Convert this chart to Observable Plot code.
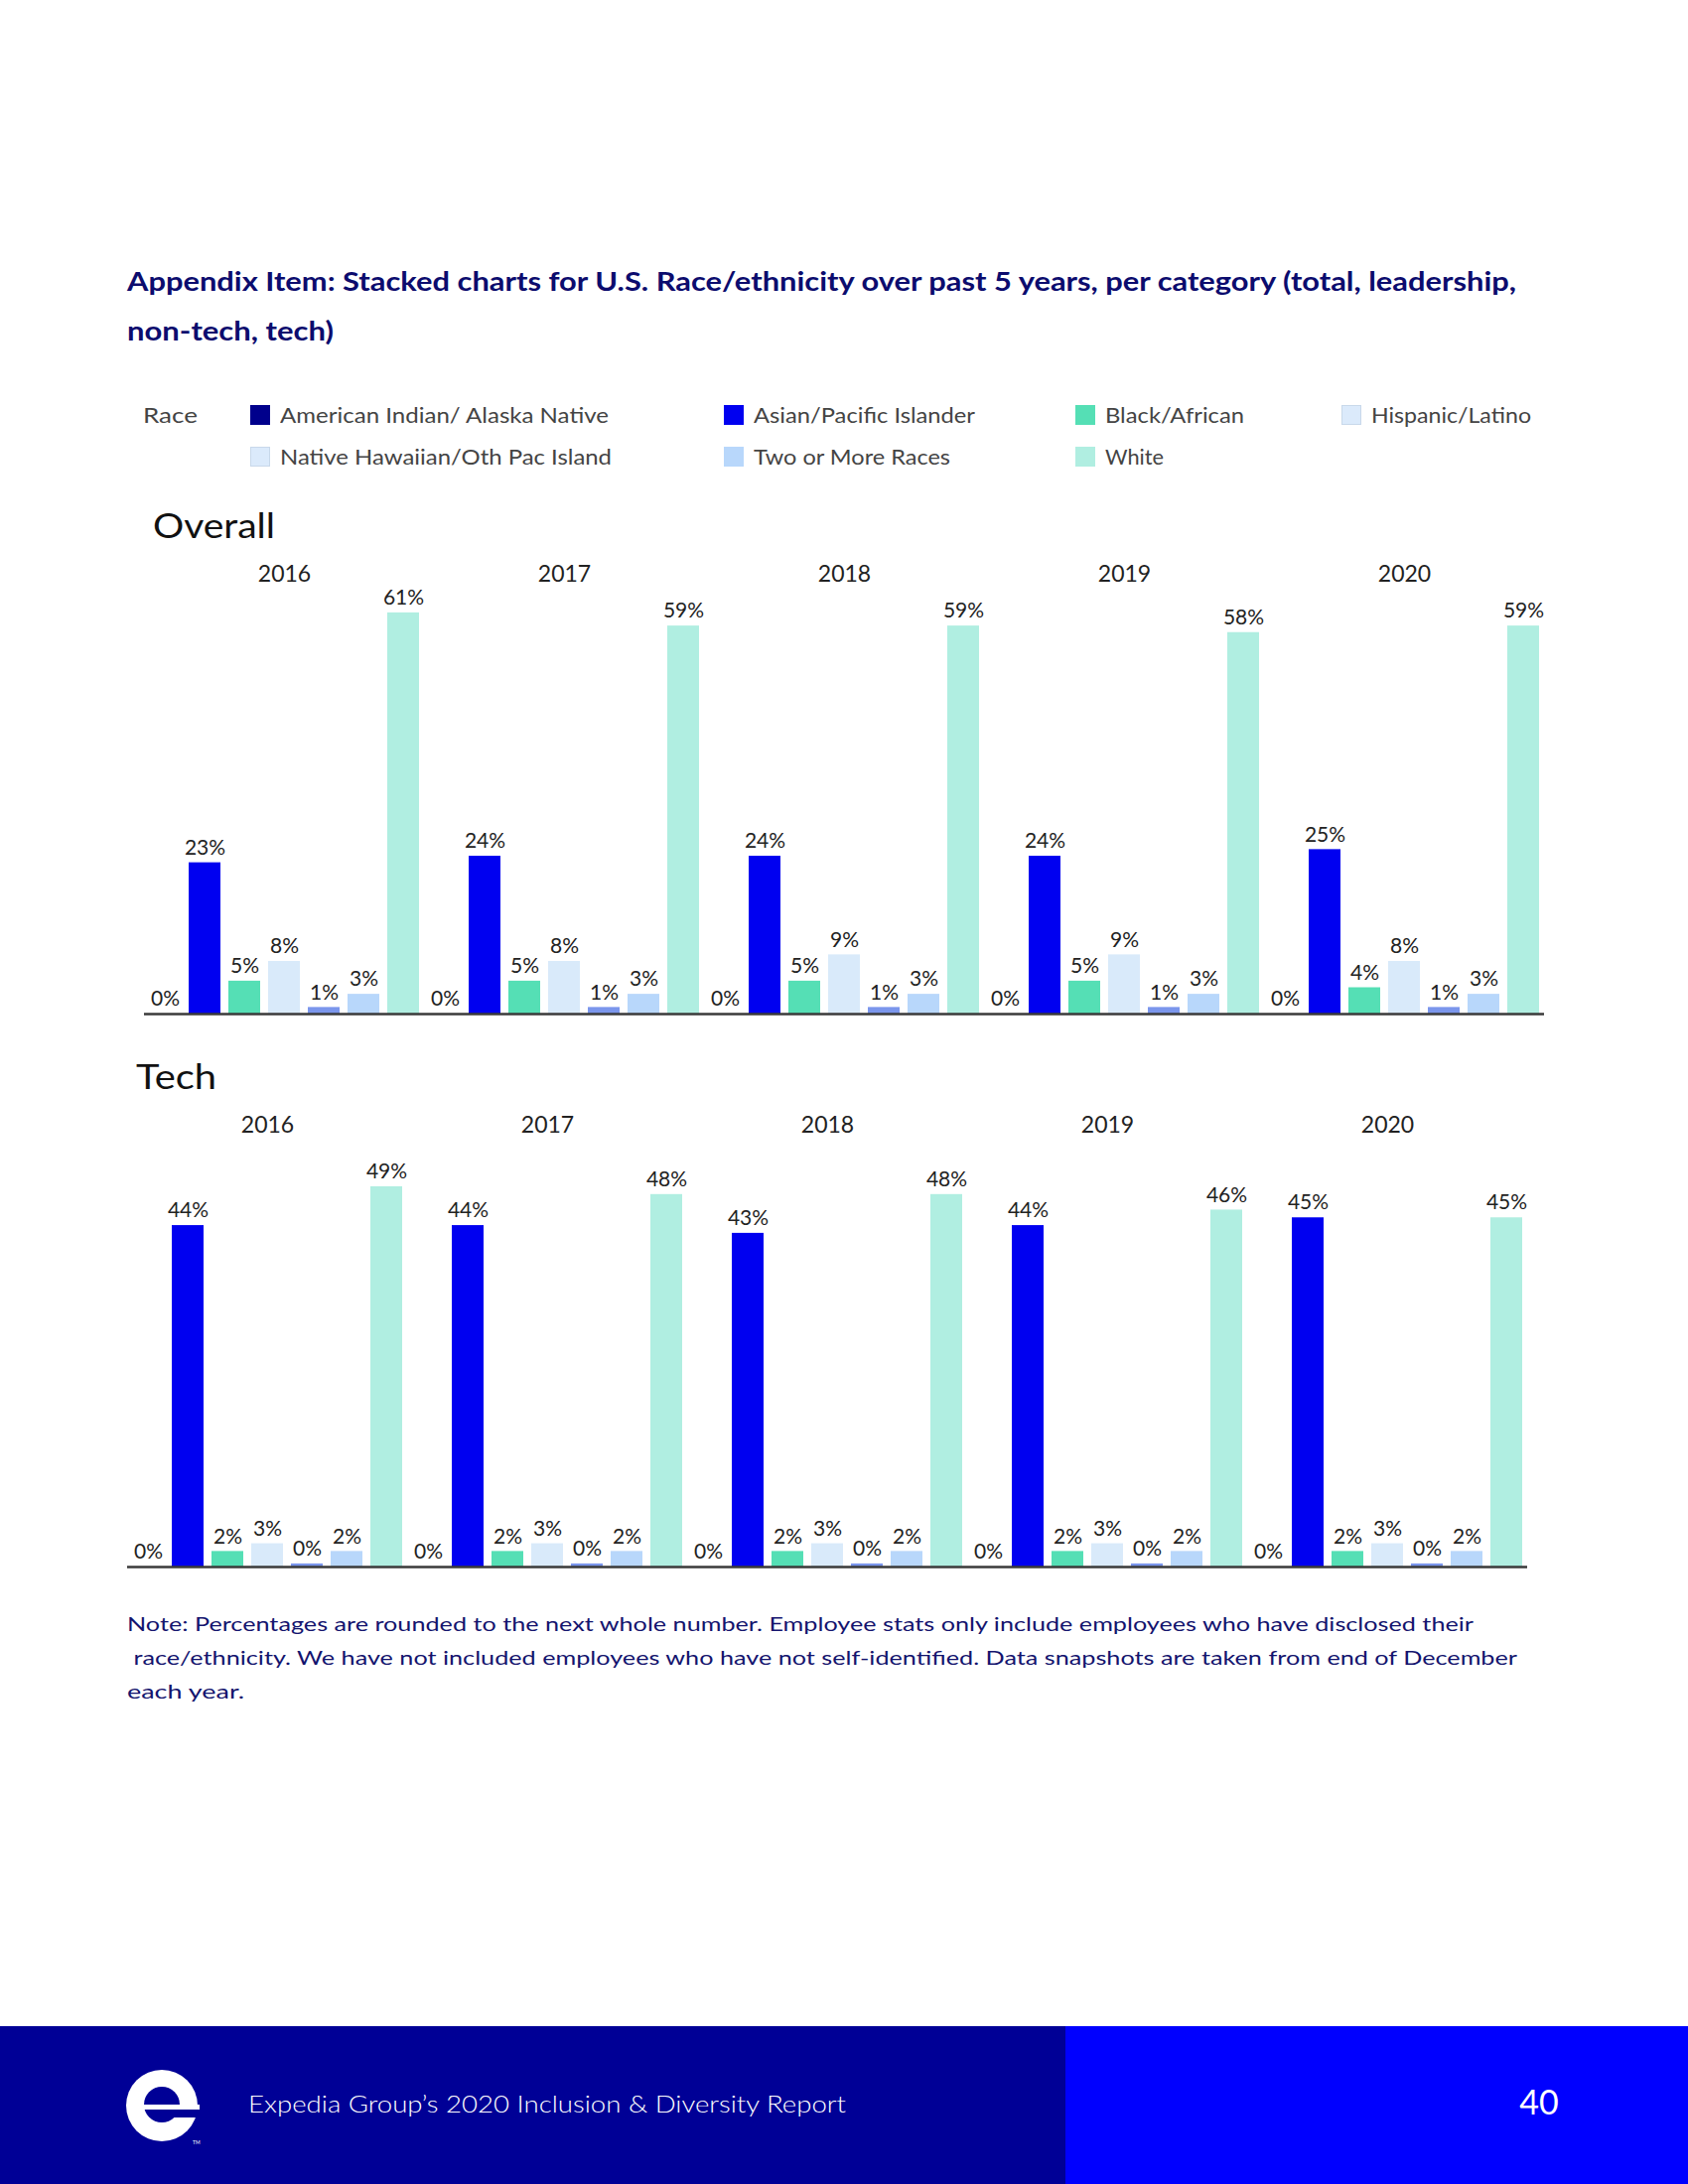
<!DOCTYPE html>
<html><head><meta charset="utf-8">
<script src="https://cdn.jsdelivr.net/npm/d3@7"></script>
<script src="https://cdn.jsdelivr.net/npm/@observablehq/plot@0.6"></script>
<style>
body{margin:0;background:#fff;}
#page{position:relative;width:1700px;height:2200px;overflow:hidden;font-family:Lato,"Open Sans",sans-serif;background:#fff;}
.abs{position:absolute;white-space:pre;}
.fit{display:inline-block;transform-origin:0 50%;}
.title{font-size:27px;font-weight:700;color:#0c0c6e;line-height:50px;}
.leg{font-size:21px;color:#444;line-height:30px;height:30px;}
.sw{position:absolute;width:20px;height:20px;box-sizing:border-box;}
.sec{font-size:34px;color:#111;line-height:40px;}
.note{line-height:34px;font-size:20px;color:#14146e;}
#footL{left:0;top:2041px;width:1073px;height:159px;background:#000096;}
#footR{left:1073px;top:2041px;width:627px;height:159px;background:#0000ff;}
#footText{left:250px;top:2104px;line-height:30px;font-size:24px;color:#fff;font-weight:300;}
#pageNum{left:1520px;top:2097px;line-height:40px;font-size:34px;color:#fff;width:60px;text-align:center;}
</style></head><body><div id="page">
<div class="abs title fit" style="left:128px;top:258px;" data-w="1399">Appendix Item: Stacked charts for U.S. Race/ethnicity over past 5 years, per category (total, leadership,</div>
<div class="abs title fit" style="left:128px;top:308px;" data-w="208">non-tech, tech)</div>
<div id="legend"></div>
<div class="abs sec fit" style="left:154px;top:509px;" data-w="123">Overall</div>
<div class="abs sec fit" style="left:137px;top:1064px;" data-w="81">Tech</div>
<div id="overall" class="abs" style="left:145px;top:537px;"></div>
<div id="tech" class="abs" style="left:128px;top:1092px;"></div>
<div class="abs note fit" style="left:128px;top:1618px;" data-w="1356">Note: Percentages are rounded to the next whole number. Employee stats only include employees who have disclosed their</div>
<div class="abs note fit" style="left:128px;top:1652px;" data-w="1400"> race/ethnicity. We have not included employees who have not self-identified. Data snapshots are taken from end of December</div>
<div class="abs note fit" style="left:128px;top:1686px;" data-w="118">each year.</div>
<div id="footL" class="abs"></div>
<div id="footR" class="abs"></div>
<svg class="abs" style="left:120px;top:2078px;" width="90" height="90" viewBox="0 0 90 90">
  <circle cx="43" cy="43" r="36" fill="#fff"/>
  <circle cx="43" cy="42" r="18" fill="#000096"/>
  <rect x="43" y="46" width="40" height="9" fill="#000096"/>
  <rect x="25" y="42" width="56" height="5" fill="#fff"/>
  <text x="74" y="82" font-size="5" fill="#fff">TM</text>
</svg>
<div id="footText" class="abs fit" data-w="602">Expedia Group’s 2020 Inclusion &amp; Diversity Report</div>
<div id="pageNum" class="abs">40</div>
</div>
<script>
const years = ["2016", "2017", "2018", "2019", "2020"];
const races = ["American Indian/ Alaska Native", "Asian/Pacific Islander", "Black/African", "Hispanic/Latino", "Native Hawaiian/Oth Pac Island", "Two or More Races", "White"];
const barColors = ["#00008c", "#0000f0", "#55dfb5", "#d9eafa", "#7b96ec", "#b8d7fb", "#b0eee1"];
const legendColors = ["#00008c", "#0000f0", "#55dfb5", "#dbeafb", "#dbeafb", "#b8d7fb", "#b0eee1"];

// values per year, in the order of races
const overall2016 = [0, 23, 5, 8, 1, 3, 61];
const overall2017 = [0, 24, 5, 8, 1, 3, 59];
const overall2018 = [0, 24, 5, 9, 1, 3, 59];
const overall2019 = [0, 24, 5, 9, 1, 3, 58];
const overall2020 = [0, 25, 4, 8, 1, 3, 59];

const tech2016 = [0, 44, 2, 3, 0.4, 2, 49];
const tech2017 = [0, 44, 2, 3, 0.4, 2, 48];
const tech2018 = [0, 43, 2, 3, 0.4, 2, 48];
const tech2019 = [0, 44, 2, 3, 0.4, 2, 46];
const tech2020 = [0, 45, 2, 3, 0.4, 2, 45];

const overallValues = [overall2016, overall2017, overall2018, overall2019, overall2020];
const techValues = [tech2016, tech2017, tech2018, tech2019, tech2020];

// legend
const legendPos = [[252, 418], [729, 418], [1083, 418], [1351, 418], [252, 460], [729, 460], [1083, 460]];
const legendWidths = [331, 223, 140, 161, 334, 198, 59];
const legend = document.getElementById("legend");
const raceLab = document.createElement("div");
raceLab.className = "abs leg fit"; raceLab.style.left = "144px"; raceLab.style.top = (418 - 15) + "px";
raceLab.dataset.w = 55;
raceLab.textContent = "Race"; legend.appendChild(raceLab);
races.forEach((r, i) => {
  const s = document.createElement("div");
  s.className = "sw";
  s.style.left = legendPos[i][0] + "px";
  s.style.top = (legendPos[i][1] - 10) + "px";
  s.style.background = legendColors[i];
  if (i === 3 || i === 4) s.style.border = "1px solid #c8d8ea";
  legend.appendChild(s);
  const d = document.createElement("div");
  d.className = "abs leg fit";
  d.style.left = (legendPos[i][0] + 30) + "px";
  d.style.top = (legendPos[i][1] - 15) + "px";
  d.dataset.w = legendWidths[i];
  d.textContent = r;
  legend.appendChild(d);
});

function fitAll() {
  document.querySelectorAll(".fit").forEach(el => {
    el.style.transform = "none";
    const w = el.getBoundingClientRect().width;
    const target = +el.dataset.w;
    if (w > 0 && target) el.style.transform = "scaleX(" + (target / w) + ")";
  });
}
fitAll();
if (document.fonts && document.fonts.ready) document.fonts.ready.then(fitAll);

function chart(values, ymax, height) {
  const data = [];
  years.forEach((yr, i) => races.forEach((r, j) => data.push({year: yr, race: r, value: values[i][j]})));
  return Plot.plot({
    width: 1410, height,
    marginTop: 60, marginBottom: 12, marginLeft: 0, marginRight: 0,
    fx: {domain: years, padding: 0, axis: "top", label: null, tickSize: 0, tickPadding: 12},
    x: {domain: races, paddingInner: 0.2, paddingOuter: 0.1, axis: null},
    y: {domain: [0, ymax], axis: null},
    color: {domain: races, range: barColors},
    style: {fontFamily: "Lato, 'Open Sans', sans-serif", fontSize: "23px", color: "#222", background: "transparent", overflow: "visible"},
    marks: [
      Plot.barY(data, {fx: "year", x: "race", y: "value", fill: "race"}),
      Plot.ruleY([0], {stroke: "#3a3a3a", strokeWidth: 2.5}),
      Plot.text(data, {fx: "year", x: "race", y: "value", text: d => Math.round(d.value) + "%", dy: -15, fontSize: 21, fill: "#222"})
    ]
  });
}

document.getElementById("overall").appendChild(chart(overallValues, 64, 496));
document.getElementById("tech").appendChild(chart(techValues, 54.5, 498));
</script>
</body></html>
